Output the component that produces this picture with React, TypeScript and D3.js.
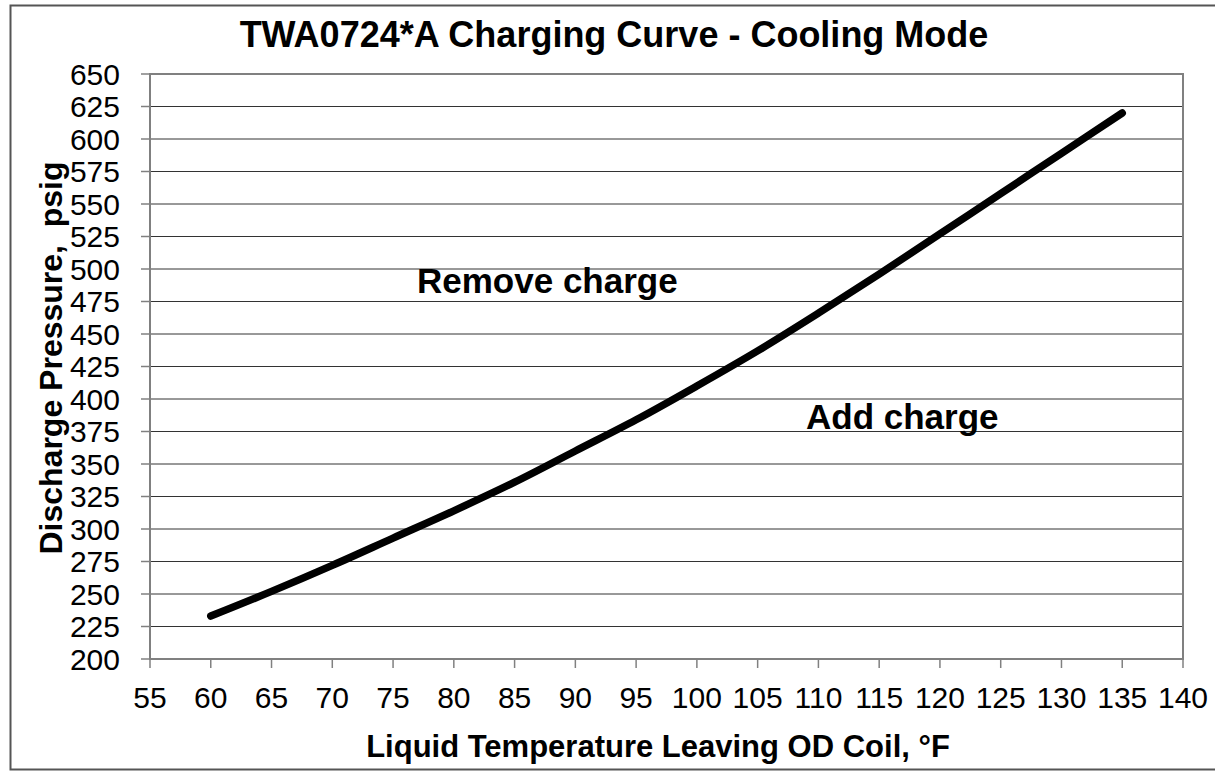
import React from "react";
import * as d3 from "d3";

// liquid temperature (°F)
const temps = [60, 65, 70, 75, 80, 85, 90, 95, 100, 105, 110, 115, 120, 125, 130, 135];
// discharge pressure (psig)
const pressures = [233, 252, 272, 293, 314, 336, 360, 384, 410, 437, 466, 496, 527, 558, 589, 620];

const xTicks = d3.range(55, 141, 5);
const yTicks = d3.range(200, 651, 25);

const title = "TWA0724*A Charging Curve - Cooling Mode";
const xTitle = "Liquid Temperature Leaving OD Coil, °F";
const yTitle = "Discharge Pressure,  psig";

const App = () => {
  const width = 1215;
  const height = 772;
  const margin = { top: 74, left: 150, right: 1183, bottom: 659 };
  const font = "Arial, 'Liberation Sans', sans-serif";

  const x = d3.scaleLinear().domain([55, 140]).range([margin.left, margin.right]);
  const y = d3.scaleLinear().domain([200, 650]).range([margin.bottom, margin.top]);

  const points = temps.map((t, i) => [t, pressures[i]] as [number, number]);
  const line = d3
    .line<[number, number]>()
    .x(d => x(d[0]))
    .y(d => y(d[1]))
    .curve(d3.curveCatmullRom);

  return (
    <svg
      width={width}
      height={height}
      style={{ position: "absolute", left: 0, top: 0, background: "#fff" }}
      fontFamily={font}
    >
      <rect x={10.5} y={5.5} width={1215} height={764} fill="#fff" stroke="#555" strokeWidth={2} />

      <text x={614} y={47} textAnchor="middle" fontSize={36} fontWeight="bold">
        {title}
      </text>

      {/* grid */}
      {yTicks.map(v => (
        <line key={"g" + v} x1={margin.left} x2={margin.right} y1={y(v)} y2={y(v)} stroke="#333" strokeWidth={1} />
      ))}

      <rect
        x={margin.left}
        y={margin.top}
        width={margin.right - margin.left}
        height={margin.bottom - margin.top}
        fill="none"
        stroke="#808080"
        strokeWidth={2}
      />

      {/* y axis */}
      {yTicks.map(v => (
        <g key={"y" + v}>
          <line x1={margin.left - 9} x2={margin.left} y1={y(v)} y2={y(v)} stroke="#808080" strokeWidth={1.5} />
          <text x={120} y={y(v)} dy="0.36em" textAnchor="end" fontSize={30}>
            {v}
          </text>
        </g>
      ))}

      {/* x axis */}
      {xTicks.map(v => (
        <g key={"x" + v}>
          <line x1={x(v)} x2={x(v)} y1={margin.bottom} y2={margin.bottom + 9} stroke="#808080" strokeWidth={1.5} />
          <text x={x(v)} y={708} textAnchor="middle" fontSize={30}>
            {v}
          </text>
        </g>
      ))}

      <path d={line(points) || ""} fill="none" stroke="#000" strokeWidth={7.5} strokeLinecap="round" strokeLinejoin="round" />

      <text x={417} y={293} fontSize={35} fontWeight="bold">Remove charge</text>
      <text x={806} y={429} fontSize={35} fontWeight="bold">Add charge</text>

      <text x={658} y={757} textAnchor="middle" fontSize={31} fontWeight="bold">
        {xTitle}
      </text>
      <text
        transform="translate(62,358) rotate(-90)"
        textAnchor="middle"
        fontSize={32}
        fontWeight="bold"
        style={{ whiteSpace: "pre" }}
      >
        {yTitle}
      </text>
    </svg>
  );
};

export default App;
